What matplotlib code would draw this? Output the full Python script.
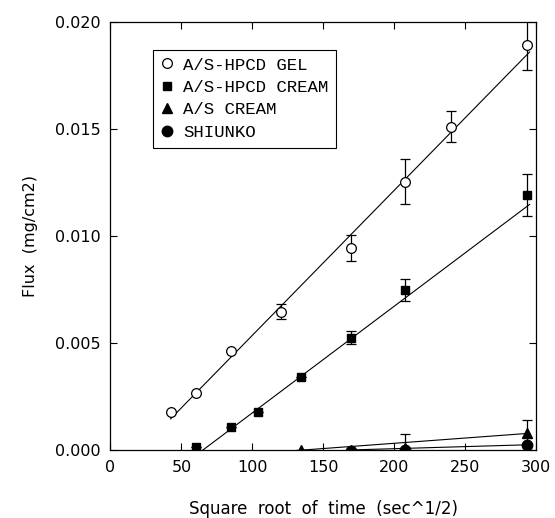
import matplotlib
matplotlib.use("Agg")
import matplotlib.pyplot as plt
import numpy as np

# sqrt(time) sampling points
gel_x = [42.4, 60.0, 84.9, 120.0, 169.7, 207.8, 240.0, 293.9]
gel_y = [0.00178, 0.00266, 0.00463, 0.00645, 0.00945, 0.01252, 0.01510, 0.01890]
gel_err = [0.0, 0.0, 0.0, 0.00035, 0.0006, 0.00105, 0.00072, 0.00115]

cream_x = [60.0, 84.9, 103.9, 134.2, 169.7, 207.8, 293.9]
cream_y = [0.00015, 0.00107, 0.00178, 0.00342, 0.00525, 0.00748, 0.01190]
cream_err = [0.0, 0.0, 0.0, 0.0, 0.0003, 0.0005, 0.00098]

as_x = [134.2, 169.7, 207.8, 293.9]
as_y = [0.00000, 0.00002, 0.00012, 0.00080]
as_err = [0.0, 0.0, 0.00062, 0.0006]

shi_x = [169.7, 207.8, 293.9]
shi_y = [-0.00002, 0.00000, 0.00025]

# regression lines (slope, intercept)
gel_fit = (6.77e-5, -0.00141)
cream_fit = (4.98e-5, -0.00324)
as_fit = (4.9e-6, -0.00066)
shi_fit = (1.94e-6, -0.00032)


def fit_line(ax, xs, fit):
    a, b = fit
    x0 = max(xs[0], -b / a)
    xx = np.array([x0, xs[-1] + 1.5])
    ax.plot(xx, a * xx + b, c='k', lw=0.8, zorder=1)


fig = plt.figure(figsize=(5.55, 5.18), dpi=100)
ax = fig.add_axes([0.199, 0.131, 0.767, 0.827])

fit_line(ax, gel_x, gel_fit)
fit_line(ax, cream_x, cream_fit)
fit_line(ax, as_x, as_fit)
fit_line(ax, shi_x, shi_fit)

ekw = dict(fmt='none', ecolor='k', elinewidth=0.9, capsize=3.5, capthick=0.9, zorder=2)
ax.errorbar(gel_x, gel_y, yerr=gel_err, **ekw)
ax.errorbar(cream_x, cream_y, yerr=cream_err, **ekw)
ax.errorbar(as_x, as_y, yerr=as_err, **ekw)

ax.plot(gel_x, gel_y, 'o', mfc='white', mec='k', mew=0.9, ms=7, zorder=3,
        label='A/S-HPCD GEL')
ax.plot(cream_x, cream_y, 's', mfc='k', mec='k', ms=6, zorder=3,
        label='A/S-HPCD CREAM')
ax.plot(as_x, as_y, '^', mfc='k', mec='k', ms=6.5, zorder=3,
        label='A/S CREAM')
ax.plot(shi_x, shi_y, 'o', mfc='k', mec='k', ms=7.5, zorder=3,
        label='SHIUNKO')

ax.set_xlim(0, 300)
ax.set_ylim(0, 0.020)
ax.set_xticks(np.arange(0, 301, 50))
ax.set_yticks(np.arange(0, 0.0201, 0.005))
ax.yaxis.set_major_formatter(matplotlib.ticker.FormatStrFormatter('%.3f'))
ax.tick_params(direction='in', top=True, right=True, length=5, width=0.8,
               labelsize=11.5, pad=7)
for s in ax.spines.values():
    s.set_linewidth(0.9)

ax.set_xlabel('Square  root  of  time  (sec^1/2)', fontsize=12, labelpad=18)
ax.set_ylabel('Flux  (mg/cm2)', fontsize=11.5, labelpad=12)

leg = ax.legend(loc='upper left', bbox_to_anchor=(0.1, 0.935), frameon=True,
                fancybox=False, edgecolor='k', framealpha=1, handlelength=0.7,
                handletextpad=0.6, borderpad=0.45, labelspacing=0.42,
                borderaxespad=0, prop={'family': 'Liberation Mono', 'size': 12.5})
leg.get_frame().set_linewidth(0.8)

fig.savefig('out.png', dpi=100)
